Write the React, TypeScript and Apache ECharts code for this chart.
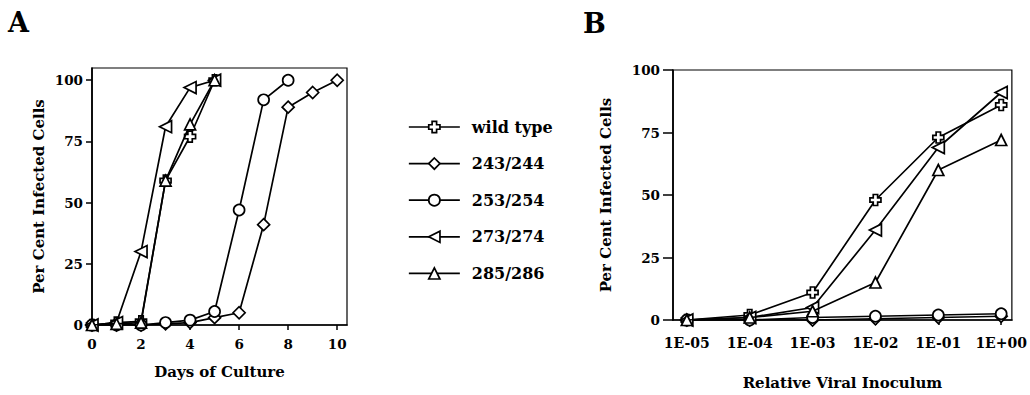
import React, { useEffect, useRef } from "react";
import * as echarts from "echarts";

// Panel A: days of culture
const daysA = [0, 1, 2, 3, 4, 5, 6, 7, 8, 9, 10];
const wildTypeA = [0, 1, 1.5, 59, 77, 100];
const m243A = [0, 0, 0, 0.5, 1, 3, 5, 41, 89, 95, 100];
const m253A = [0, 0, 0, 1, 2, 5.5, 47, 92, 100];
const m273A = [0, 1, 30, 81, 97, 100];
const m285A = [0, 0.5, 1, 59, 82, 100];
const ticksA = [0, 2, 4, 6, 8, 10];

// Panel B: relative viral inoculum (log10 exponent)
const inoculumExp = [-5, -4, -3, -2, -1, 0];
const inoculumLabels = ["1E-05", "1E-04", "1E-03", "1E-02", "1E-01", "1E+00"];
const wildTypeB = [0, 2, 11, 48, 73, 86];
const m243B = [0, 0, 0, 0.5, 1, 1.5];
const m253B = [0, 0, 1, 1.5, 2, 2.5];
const m273B = [0, 1, 5, 36, 69, 91];
const m285B = [0, 1, 3.5, 15, 60, 72];

const yTicks = [0, 25, 50, 75, 100];

const names = ["wild type", "243/244", "253/254", "273/274", "285/286"];
const CROSS = "path://M3,0 H7 V3 H10 V7 H7 V10 H3 V7 H0 V3 H3 Z";
const symbols = [CROSS, "diamond", "circle", "triangle", "triangle"];
const rotations = [0, 0, 0, 90, 0];
const sizes = [11, 12, 11, 12, 11];

const FONT = "DejaVu Serif";

function pairs(xs: number[], ys: number[]) {
  return ys.map((y, i) => [xs[i], y]);
}

export default function App() {
  const ref = useRef<HTMLDivElement>(null);
  useEffect(() => {
    if (!ref.current) return;
    const chart = echarts.init(ref.current, null, { renderer: "svg" });
    const seriesA = [wildTypeA, m243A, m253A, m273A, m285A];
    const seriesB = [wildTypeB, m243B, m253B, m273B, m285B];
    const mk = (data: number[][], i: number, g: number) => ({
      type: "line",
      name: names[i],
      xAxisIndex: g,
      yAxisIndex: g,
      data,
      symbol: symbols[i],
      symbolSize: sizes[i],
      symbolRotate: rotations[i],
      showAllSymbol: true,
      lineStyle: { color: "#000", width: 1.7 },
      itemStyle: { color: "#fff", borderColor: "#000", borderWidth: 1.7 },
      emphasis: { disabled: true },
      z: 2 + i,
    });
    const series: any[] = [];
    seriesA.forEach((s, i) => series.push(mk(pairs(daysA, s), i, 0)));
    seriesB.forEach((s, i) => series.push(mk(pairs(inoculumExp, s), i, 1)));

    const labelStyle = { color: "#000", fontFamily: FONT, fontWeight: "bold", fontSize: 13.5 };
    const nameStyle = { color: "#000", fontFamily: FONT, fontWeight: "bold", fontSize: 15 };
    const axisLine = { show: true, onZero: false, lineStyle: { color: "#000", width: 1.7 } };

    chart.setOption({
      animation: false,
      backgroundColor: "#fff",
      grid: [
        { left: 92, right: 683, top: 68, bottom: 70, show: true, borderColor: "#000", borderWidth: 1.2 },
        { left: 673, right: 15, top: 70, bottom: 69, show: true, borderColor: "#000", borderWidth: 1.2 },
      ],
      xAxis: [
        {
          type: "value",
          gridIndex: 0,
          min: 0,
          max: 10.4,
          splitLine: { show: false },
          axisLine,
          axisTick: { show: true, length: 5, customValues: ticksA, lineStyle: { color: "#000", width: 1.5 } },
          axisLabel: { ...labelStyle, margin: 12, customValues: ticksA },
          name: "Days of Culture",
          nameLocation: "middle",
          nameGap: 39,
          nameTextStyle: nameStyle,
        },
        {
          type: "value",
          gridIndex: 1,
          min: -5.22,
          max: 0.17,
          splitLine: { show: false },
          axisLine,
          axisTick: { show: true, length: 5, customValues: inoculumExp, lineStyle: { color: "#000", width: 1.5 } },
          axisLabel: {
            ...labelStyle,
            fontSize: 14,
            margin: 16,
            customValues: inoculumExp,
            formatter: (v: number) => {
              const idx = inoculumExp.indexOf(Math.round(v));
              return idx >= 0 ? inoculumLabels[idx] : "";
            },
          },
          name: "Relative Viral Inoculum",
          nameLocation: "middle",
          nameGap: 55,
          nameTextStyle: nameStyle,
        },
      ],
      yAxis: [
        {
          type: "value",
          gridIndex: 0,
          min: 0,
          max: 105,
          splitLine: { show: false },
          axisLine,
          axisTick: { show: true, length: 6, customValues: yTicks, lineStyle: { color: "#000", width: 1.5 } },
          axisLabel: { ...labelStyle, margin: 9, customValues: yTicks },
          name: "Per Cent Infected Cells",
          nameLocation: "middle",
          nameGap: 46,
          nameTextStyle: nameStyle,
        },
        {
          type: "value",
          gridIndex: 1,
          min: 0,
          max: 100,
          interval: 25,
          splitLine: { show: false },
          axisLine,
          axisTick: { show: true, length: 10, lineStyle: { color: "#000", width: 1.5 } },
          axisLabel: { ...labelStyle, margin: 13 },
          name: "Per Cent Infected Cells",
          nameLocation: "middle",
          nameGap: 60,
          nameTextStyle: nameStyle,
        },
      ],
      legend: {
        data: names,
        orient: "vertical",
        left: 403,
        top: 114,
        itemWidth: 51,
        itemHeight: 14,
        itemGap: 20.6,
        selectedMode: false,
        textStyle: { color: "#000", fontFamily: FONT, fontWeight: "bold", fontSize: 16, padding: [0, 0, 0, 7] },
        itemStyle: { color: "#fff", borderColor: "#000", borderWidth: 1.7 },
        lineStyle: { color: "#000", width: 1.7 },
      },
      graphic: [
        { type: "text", left: 8, top: 9, style: { text: "A", fill: "#000", font: `bold 27px "${FONT}"` } },
        { type: "text", left: 583, top: 10, style: { text: "B", fill: "#000", font: `bold 27px "${FONT}"` } },
      ],
      series,
    });
    return () => chart.dispose();
  }, []);
  return (
    <div
      ref={ref}
      style={{ position: "fixed", left: 0, top: 0, width: 1030, height: 395, background: "#fff" }}
    />
  );
}
